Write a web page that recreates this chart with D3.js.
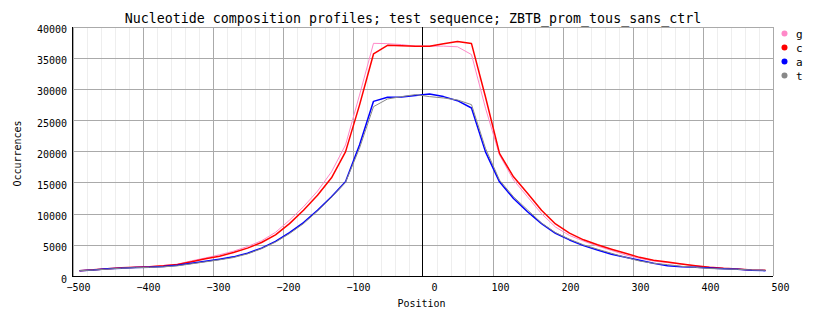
<!DOCTYPE html>
<html>
<head>
<meta charset="utf-8">
<script src="https://cdn.jsdelivr.net/npm/d3@7/dist/d3.min.js"></script>
<style>
  html, body { margin: 0; padding: 0; background: #ffffff; }
  svg { display: block; }
  text { font-family: "DejaVu Sans Mono", "Liberation Mono", monospace; fill: #000; }
</style>
</head>
<body>
<svg id="chart" width="828" height="328"></svg>
<script>
// Window centres (bp relative to the reference point)
const positions = [
  -490, -470, -450, -430, -410, -390, -370, -350, -330, -310,
  -290, -270, -250, -230, -210, -190, -170, -150, -130, -110,
  -90, -70, -50, -30, -10, 10, 30, 50, 70, 90,
  110, 130, 150, 170, 190, 210, 230, 250, 270, 290,
  310, 330, 350, 370, 390, 410, 430, 450, 470, 490
];

// Occurrences per nucleotide in each window
const gCounts = [
  850, 1000, 1150, 1300, 1420, 1500, 1680, 1900, 2430, 2900,
  3400, 3980, 4730, 5640, 7000, 8950, 11100, 13600, 16700, 21000,
  29000, 37300, 37250, 37100, 36850, 36850, 36850, 36750, 35500, 26900,
  19400, 15400, 12700, 10000, 7850, 6500, 5600, 4800, 4100, 3380,
  2830, 2400, 2150, 1930, 1600, 1390, 1230, 1100, 960, 880
];
const cCounts = [
  850, 990, 1150, 1310, 1420, 1470, 1630, 1840, 2270, 2750,
  3180, 3770, 4470, 5370, 6600, 8400, 10550, 12960, 15740, 19900,
  27400, 35600, 36980, 36930, 36830, 36830, 37250, 37580, 37260, 28700,
  19650, 15900, 13250, 10550, 8340, 6870, 5800, 5000, 4300, 3640,
  2990, 2510, 2250, 1930, 1660, 1390, 1230, 1120, 960, 910
];
const aCounts = [
  850, 950, 1150, 1250, 1360, 1420, 1520, 1740, 2060, 2380,
  2700, 3070, 3660, 4470, 5540, 6970, 8570, 10550, 12700, 15100,
  21000, 28000, 28650, 28700, 28920, 29190, 28760, 28110, 26930, 19900,
  15100, 12430, 10300, 8400, 6850, 5780, 4870, 4170, 3480, 3000,
  2510, 2030, 1660, 1500, 1390, 1280, 1180, 1070, 910, 860
];
const tCounts = [
  850, 950, 1100, 1250, 1330, 1380, 1470, 1630, 1950, 2270,
  2590, 2960, 3550, 4370, 5430, 6800, 8400, 10400, 12600, 15000,
  20500, 27150, 28380, 28760, 29080, 28760, 28540, 28220, 27470, 20450,
  15370, 12700, 10600, 8500, 6950, 5890, 5000, 4300, 3640, 3000,
  2400, 2030, 1820, 1550, 1390, 1200, 1130, 1070, 960, 910
];

const seriesNames = ["g", "c", "a", "t"];
const seriesColors = ["#ff88c8", "#ff0000", "#0000ff", "#888888"];
const seriesWidths = [1, 1.5, 1.5, 1];
const seriesValues = [gCounts, cCounts, aCounts, tCounts];

const xMajorTicks = d3.range(-500, 501, 100);
const xMinorTicks = d3.range(-480, 500, 20).filter(v => v % 100 !== 0);
const yTicks = d3.range(0, 40001, 5000);

const titleText = "Nucleotide composition profiles; test sequence; ZBTB_prom_tous_sans_ctrl";
const xLabel = "Position";
const yLabel = "Occurrences";

const svg = d3.select("#chart");
const plotLeft = 72.5, plotRight = 772.5, plotTop = 26.5, plotBottom = 276;

const x = d3.scaleLinear().domain([-500, 500]).range([plotLeft, plotRight]);
const y = d3.scaleLinear().domain([0, 40000]).range([plotBottom, plotTop]);

svg.append("rect").attr("width", 828).attr("height", 328).attr("fill", "#ffffff");

// minor vertical grid
svg.append("g")
  .attr("transform", `translate(0,${plotBottom})`)
  .call(d3.axisBottom(x).tickValues(xMinorTicks).tickSize(-(plotBottom - plotTop)).tickFormat(""))
  .call(g => g.select(".domain").remove())
  .call(g => g.selectAll("line").attr("stroke", "#eeeeee").attr("shape-rendering", "crispEdges"));

// major horizontal grid + y labels
svg.append("g")
  .attr("transform", `translate(${plotLeft},0)`)
  .call(d3.axisLeft(y).tickValues(yTicks).tickSize(-(plotRight - plotLeft)).tickFormat(d3.format("d")))
  .call(g => g.select(".domain").remove())
  .call(g => g.selectAll("line").attr("stroke", "#aaaaaa").attr("shape-rendering", "crispEdges"))
  .call(g => g.selectAll("text")
    .attr("x", -5.5).attr("dy", null).attr("y", 6)
    .attr("text-anchor", "end")
    .style("font-family", "'DejaVu Sans Mono', monospace")
    .style("font-size", "10px"));

// major vertical grid + x labels
svg.append("g")
  .attr("transform", `translate(0,${plotBottom})`)
  .call(d3.axisBottom(x).tickValues(xMajorTicks).tickSize(-(plotBottom - plotTop)).tickFormat(d3.format("d")))
  .call(g => g.select(".domain").remove())
  .call(g => g.selectAll("line").attr("stroke", d => d === 0 ? "none" : "#aaaaaa").attr("shape-rendering", "crispEdges"))
  .call(g => g.selectAll("text")
    .attr("y", 15).attr("dy", null)
    .attr("x", function(d) { return 13.5 - 2 * String(d).length; })
    .attr("text-anchor", "middle")
    .style("font-family", "'DejaVu Sans Mono', monospace")
    .style("font-size", "10px"));

// zero marker
svg.append("line")
  .attr("x1", x(0)).attr("x2", x(0)).attr("y1", plotTop).attr("y2", plotBottom)
  .attr("stroke", "#000").attr("shape-rendering", "crispEdges");

// axis lines
svg.append("line")
  .attr("x1", plotLeft).attr("x2", plotLeft).attr("y1", plotTop).attr("y2", plotBottom + 1)
  .attr("stroke", "#000").attr("shape-rendering", "crispEdges");
svg.append("line")
  .attr("x1", plotLeft).attr("x2", plotRight).attr("y1", plotBottom + 0.5).attr("y2", plotBottom + 0.5)
  .attr("stroke", "#000").attr("stroke-width", 1.5).attr("shape-rendering", "crispEdges");

// profiles
const line = d3.line().x((d, i) => x(positions[i])).y(d => y(d));
seriesValues.forEach((vals, k) => {
  svg.append("path")
    .datum(vals)
    .attr("d", line)
    .attr("fill", "none")
    .attr("stroke", seriesColors[k])
    .attr("stroke-width", seriesWidths[k])
    .attr("stroke-linejoin", "round");
});

// title
svg.append("text")
  .attr("x", 413).attr("y", 23)
  .attr("text-anchor", "middle")
  .style("font-size", "13.3px")
  .text(titleText);

// axis titles
svg.append("text")
  .attr("x", 421.5).attr("y", 307)
  .attr("text-anchor", "middle")
  .style("font-size", "10px")
  .text(xLabel);
svg.append("text")
  .attr("transform", "translate(21,153.5) rotate(-90)")
  .attr("text-anchor", "middle")
  .style("font-size", "10px")
  .text(yLabel);

// legend
const legend = svg.append("g");
seriesNames.forEach((name, k) => {
  const ly = 33.5 + k * 14;
  legend.append("circle")
    .attr("cx", 784.5).attr("cy", ly).attr("r", 3)
    .attr("fill", seriesColors[k]);
  legend.append("text")
    .attr("x", 796).attr("y", ly + 4)
    .style("font-size", "11px")
    .text(name);
});
</script>
</body>
</html>
